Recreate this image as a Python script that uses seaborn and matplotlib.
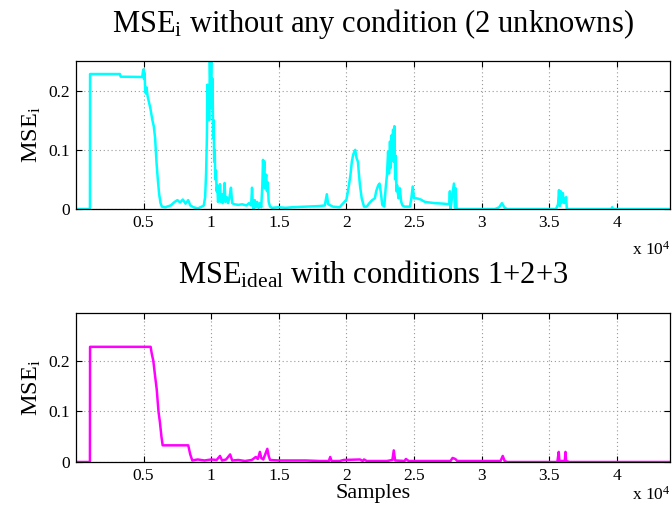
import matplotlib
matplotlib.use("Agg")
import matplotlib.pyplot as plt
import seaborn as sns
import pandas as pd

# ---- data: (sample index, MSE value) ----
top_points = [
    (0, 0), (1030, 0), (1040, 0.228), (3250, 0.228), (3300, 0.2235), (4900, 0.223), (4950, 0.232),
    (5000, 0.236), (5030, 0.22), (5070, 0.23), (5120, 0.2), (5170, 0.195), (5220, 0.205), (5300, 0.19),
    (5400, 0.18), (5500, 0.17), (5650, 0.15), (5750, 0.14), (5850, 0.12), (5950, 0.08), (6050, 0.05),
    (6150, 0.025), (6250, 0.01), (6350, 0.004), (6600, 0.003), (7000, 0.006), (7300, 0.012),
    (7500, 0.015), (7700, 0.011), (7900, 0.016), (8100, 0.009), (8300, 0.015), (8450, 0.006),
    (8700, 0.003), (9000, 0.001), (9300, 0.004), (9450, 0.006), (9550, 0.02), (9620, 0.06),
    (9680, 0.12), (9720, 0.21), (9760, 0.18), (9800, 0.205), (9850, 0.15), (9900, 0.25), (9950, 0.2),
    (10000, 0.25), (10050, 0.17), (10100, 0.22), (10140, 0.12), (10180, 0.15), (10220, 0.08),
    (10260, 0.1), (10300, 0.05), (10350, 0.065), (10400, 0.03), (10450, 0.04), (10500, 0.012),
    (10580, 0.02), (10650, 0.042), (10700, 0.012), (10780, 0.025), (10850, 0.01), (10920, 0.02),
    (10990, 0.044), (11050, 0.012), (11150, 0.02), (11250, 0.01), (11350, 0.02), (11460, 0.036),
    (11550, 0.01), (11700, 0.008), (12000, 0.007), (12300, 0.008), (12600, 0.006), (12800, 0.01),
    (12950, 0.006), (13020, 0.036), (13080, 0.006), (13150, 0.0), (13220, 0.015), (13300, 0.003),
    (13400, 0.012), (13500, 0.002), (13600, 0.01), (13700, 0.003), (13780, 0.04), (13830, 0.083),
    (13880, 0.06), (13930, 0.08), (13970, 0.035), (14020, 0.05), (14070, 0.058), (14120, 0.03),
    (14180, 0.045), (14250, 0.012), (14350, 0.004), (14500, 0.002), (15000, 0.003), (15500, 0.002),
    (16000, 0.003), (17000, 0.004), (18000, 0.005), (18400, 0.006), (18550, 0.025), (18650, 0.008),
    (19000, 0.004), (19500, 0.003), (19700, 0.008), (19850, 0.012), (20000, 0.016), (20150, 0.035),
    (20300, 0.058), (20400, 0.08), (20500, 0.092), (20650, 0.1), (20750, 0.086), (20850, 0.08),
    (20920, 0.06), (21000, 0.04), (21130, 0.018), (21300, 0.004), (21500, 0.004), (21700, 0.01),
    (21900, 0.015), (22100, 0.018), (22200, 0.03), (22350, 0.04), (22450, 0.043), (22550, 0.027),
    (22650, 0.007), (22800, 0.004), (22900, 0.035), (23000, 0.058), (23080, 0.097), (23150, 0.06),
    (23220, 0.114), (23280, 0.07), (23350, 0.125), (23400, 0.09), (23450, 0.134), (23500, 0.08),
    (23550, 0.14), (23600, 0.05), (23650, 0.09), (23700, 0.03), (23750, 0.04), (23850, 0.018),
    (23950, 0.035), (24050, 0.012), (24150, 0.006), (24300, 0.004), (24700, 0.004), (24800, 0.018),
    (24900, 0.038), (25000, 0.018), (25200, 0.018), (25500, 0.016), (25800, 0.012), (26500, 0.01),
    (27200, 0.009), (27600, 0.008), (27650, 0.03), (27700, 0.0), (27800, 0.018), (27950, 0.043),
    (28030, 0.002), (28080, 0.035), (28150, 0.0), (28280, 0.0), (31000, 0.0), (31300, 0.003),
    (31500, 0.01), (31700, 0.002), (31900, 0.0), (35500, 0.0), (35650, 0.008), (35720, 0.032),
    (35780, 0.005), (35850, 0.03), (35900, 0.01), (36000, 0.027), (36100, 0.01), (36250, 0.02),
    (36300, 0.0), (39600, 0.0), (39650, 0.003), (39700, 0.0), (43930, 0.0),
]

bottom_points = [
    (0, 0), (1030, 0), (1040, 0.228), (5520, 0.228), (5600, 0.215), (5720, 0.2), (5850, 0.17),
    (5970, 0.144), (6100, 0.1), (6210, 0.078), (6320, 0.05), (6410, 0.033), (8300, 0.033),
    (8450, 0.015), (8600, 0.003), (9000, 0.005), (9500, 0.003), (10000, 0.005), (10400, 0.004),
    (10650, 0.012), (10800, 0.003), (11100, 0.005), (11400, 0.015), (11550, 0.003), (12000, 0.004),
    (12500, 0.002), (13000, 0.004), (13300, 0.01), (13450, 0.006), (13600, 0.02), (13700, 0.008),
    (13850, 0.005), (13950, 0.012), (14150, 0.026), (14250, 0.012), (14350, 0.004), (15000, 0.003),
    (16000, 0.003), (17000, 0.003), (18000, 0.002), (18700, 0.002), (18800, 0.01), (18900, 0.002),
    (19500, 0.002), (19800, 0.004), (21000, 0.005), (21200, 0.002), (21300, 0.005), (21500, 0.002),
    (23000, 0.002), (23400, 0.004), (23500, 0.023), (23600, 0.003), (24300, 0.002), (24400, 0.006),
    (24600, 0.002), (27700, 0.002), (27850, 0.008), (28050, 0.006), (28200, 0.002), (31400, 0.002),
    (31560, 0.012), (31700, 0.002), (31900, 0.0), (35600, 0.0), (35700, 0.02), (35750, 0.002),
    (36150, 0.002), (36200, 0.02), (36250, 0.002), (36500, 0.0), (43930, 0.0),
]

xtick_vals = [5000, 10000, 15000, 20000, 25000, 30000, 35000, 40000]
xtick_labels = ["0.5", "1", "1.5", "2", "2.5", "3", "3.5", "4"]
ytick_vals = [0, 0.1, 0.2]
ytick_labels = ["0", "0.1", "0.2"]

sns.set_theme(style="white")
plt.rcParams["font.family"] = ["Liberation Serif", "DejaVu Serif"]
plt.rcParams["mathtext.fontset"] = "custom"
plt.rcParams["mathtext.rm"] = "Liberation Serif"
plt.rcParams["mathtext.it"] = "Liberation Serif"

W, H = 672, 514
fig = plt.figure(figsize=(W / 100, H / 100), dpi=100)

def add_ax(top_px, bot_px, left_px=76, right_px=670):
    return fig.add_axes([left_px / W, 1 - bot_px / H, (right_px - left_px) / W, (bot_px - top_px) / H])

ax1 = add_ax(61, 209)
ax2 = add_ax(313, 462)

df1 = pd.DataFrame(top_points, columns=["x", "y"])
df2 = pd.DataFrame(bottom_points, columns=["x", "y"])
sns.lineplot(data=df1, x="x", y="y", ax=ax1, color="#00FFFF", linewidth=1.8, estimator=None, sort=False)
sns.lineplot(data=df2, x="x", y="y", ax=ax2, color="#FF00FF", linewidth=1.8, estimator=None, sort=False)

for ax, ymax in ((ax1, 0.25), (ax2, 0.295)):
    ax.set_xlim(0, 43930)
    ax.set_ylim(0, ymax)
    ax.set_xticks(xtick_vals)
    ax.set_xticklabels(xtick_labels)
    ax.set_yticks(ytick_vals)
    ax.set_yticklabels(ytick_labels)
    ax.tick_params(direction="in", length=4, width=0.8, color="black", labelsize=12.5,
                   top=True, right=True, bottom=True, left=True, pad=4, labelcolor="black")
    ax.grid(True, linestyle=(0, (1, 2.5)), color="#999999", linewidth=0.8)
    ax.set_axisbelow(True)
    for s in ax.spines.values():
        s.set_color("black")
        s.set_linewidth(0.9)
        s.set_visible(True)
        s.set_zorder(5)
    ax.set_xlabel("")
    ax.set_ylabel(r"MSE$_\mathrm{i}$", fontsize=17.5, color="black", labelpad=4)
    ax.set_facecolor("white")

ax2.set_xlabel("Samples", fontsize=16, color="black", labelpad=0)

fig.text(373 / W, 1 - 32 / H, r"MSE$_\mathrm{i}$ without any condition (2 unknowns)",
         fontsize=22, ha="center", va="baseline", color="black")
fig.text(373 / W, 1 - 283 / H, r"MSE$_\mathrm{ideal}$ with conditions 1+2+3",
         fontsize=22, ha="center", va="baseline", color="black")

fig.text(632 / W, 1 - 255 / H, r"x 10$^{4}$", fontsize=12.5, ha="left", va="baseline", color="black")
fig.text(632 / W, 1 - 500 / H, r"x 10$^{4}$", fontsize=12.5, ha="left", va="baseline", color="black")

fig.savefig("out.png", dpi=100)
